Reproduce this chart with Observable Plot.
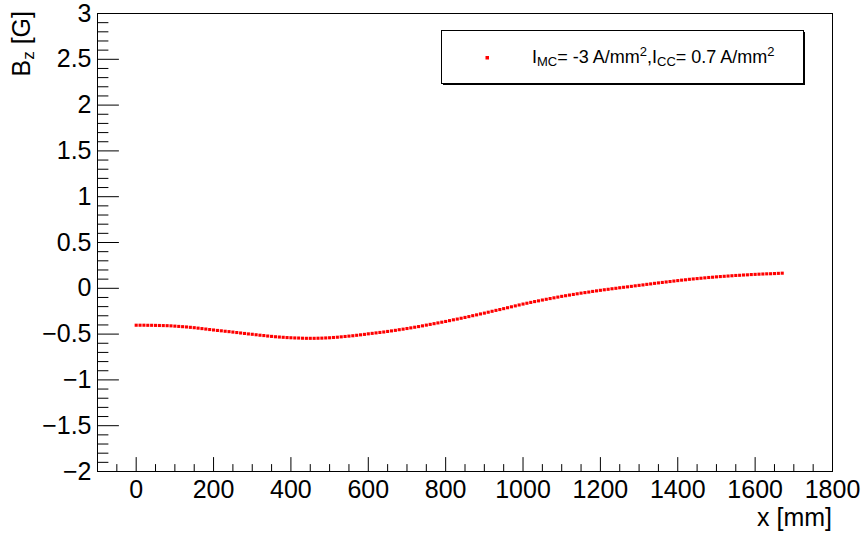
<!DOCTYPE html>
<html><head><meta charset="utf-8">
<script src="https://cdn.jsdelivr.net/npm/d3@7"></script>
<script src="https://cdn.jsdelivr.net/npm/@observablehq/plot@0.6"></script>
<style>html,body{margin:0;padding:0;background:#fff;}</style>
</head><body><div id="chart"></div>
<script>
const xPositions = [
  0,10,20,30,40,50,60,70,80,90,100,
  110,120,130,140,150,160,170,180,190,200,
  210,220,230,240,250,260,270,280,290,300,
  310,320,330,340,350,360,370,380,390,400,
  410,420,430,440,450,460,470,480,490,500,
  510,520,530,540,550,560,570,580,590,600,
  610,620,630,640,650,660,670,680,690,700,
  710,720,730,740,750,760,770,780,790,800,
  810,820,830,840,850,860,870,880,890,900,
  910,920,930,940,950,960,970,980,990,1000,
  1010,1020,1030,1040,1050,1060,1070,1080,1090,1100,
  1110,1120,1130,1140,1150,1160,1170,1180,1190,1200,
  1210,1220,1230,1240,1250,1260,1270,1280,1290,1300,
  1310,1320,1330,1340,1350,1360,1370,1380,1390,1400,
  1410,1420,1430,1440,1450,1460,1470,1480,1490,1500,
  1510,1520,1530,1540,1550,1560,1570,1580,1590,1600,
  1610,1620,1630,1640,1650,1660,1670
];
const bzValues = [
  -0.403,-0.403,-0.403,-0.404,-0.404,-0.405,-0.406,-0.407,-0.408,-0.410,-0.413,
  -0.416,-0.419,-0.422,-0.426,-0.430,-0.435,-0.440,-0.445,-0.450,-0.455,
  -0.460,-0.464,-0.469,-0.473,-0.478,-0.483,-0.488,-0.493,-0.498,-0.502,
  -0.507,-0.512,-0.516,-0.521,-0.525,-0.529,-0.532,-0.535,-0.538,-0.540,
  -0.542,-0.543,-0.545,-0.546,-0.546,-0.546,-0.545,-0.544,-0.542,-0.540,
  -0.537,-0.534,-0.530,-0.526,-0.522,-0.518,-0.513,-0.508,-0.503,-0.497,
  -0.492,-0.487,-0.482,-0.477,-0.471,-0.465,-0.459,-0.452,-0.446,-0.439,
  -0.432,-0.425,-0.418,-0.410,-0.402,-0.394,-0.386,-0.378,-0.370,-0.362,
  -0.353,-0.344,-0.336,-0.327,-0.318,-0.309,-0.299,-0.290,-0.280,-0.271,
  -0.261,-0.251,-0.241,-0.232,-0.222,-0.212,-0.202,-0.192,-0.182,-0.172,
  -0.163,-0.154,-0.145,-0.137,-0.128,-0.120,-0.112,-0.104,-0.096,-0.088,
  -0.081,-0.074,-0.067,-0.060,-0.053,-0.047,-0.041,-0.034,-0.028,-0.022,
  -0.016,-0.011,-0.005,0.000,0.006,0.011,0.016,0.021,0.027,0.032,
  0.037,0.043,0.048,0.054,0.059,0.064,0.069,0.074,0.079,0.084,
  0.089,0.093,0.098,0.102,0.106,0.110,0.114,0.118,0.121,0.125,
  0.128,0.131,0.134,0.137,0.140,0.142,0.145,0.147,0.150,0.152,
  0.154,0.156,0.158,0.159,0.161,0.163,0.165
];
const xTickValues = [0,200,400,600,800,1000,1200,1400,1600,1800];
const xTickLabels = ["0","200","400","600","800","1000","1200","1400","1600","1800"];
const yTickValues = [-2,-1.5,-1,-0.5,0,0.5,1,1.5,2,2.5,3];
const yTickLabels = ["\u22122","\u22121.5","\u22121","\u22120.5","0","0.5","1","1.5","2","2.5","3"];
const xDomain = [-100, 1800];
const yDomain = [-2, 3];
const xMinorStep = 50;
const yMinorStep = 0.1;

const FONT = "'Liberation Sans', Arial, Helvetica, sans-serif";
const data = xPositions.map((x, i) => ({x, bz: bzValues[i]}));
const xMinor = d3.range(xDomain[0], xDomain[1] + 1, xMinorStep).filter(v => !xTickValues.includes(v));
const yMinor = d3.range(yDomain[0] * 10, yDomain[1] * 10 + 1, yMinorStep * 10).filter(v => v % 5 !== 0).map(v => v / 10);

const rightShape = {draw(ctx, l) { ctx.moveTo(0, 0); ctx.lineTo(l, 0); }};
const upShape = {draw(ctx, l) { ctx.moveTo(0, 0); ctx.lineTo(0, -l); }};

const plot = Plot.plot({
  width: 866, height: 536,
  marginLeft: 97, marginRight: 34, marginTop: 13, marginBottom: 65,
  style: {fontFamily: FONT, background: "white", color: "black"},
  x: {domain: xDomain, axis: null},
  y: {domain: yDomain, axis: null},
  marks: [
    Plot.dot(data, {x: "x", y: "bz", symbol: "square", r: 1.75, fill: "#ff0000", stroke: "none"}),
    Plot.frame({stroke: "black", strokeWidth: 1}),
    Plot.vector(yTickValues, {y: d => d, frameAnchor: "left", length: 21, anchor: "start", shape: rightShape, stroke: "black", strokeWidth: 1}),
    Plot.vector(yMinor, {y: d => d, frameAnchor: "left", length: 10.5, anchor: "start", shape: rightShape, stroke: "black", strokeWidth: 1}),
    Plot.vector(xTickValues, {x: d => d, frameAnchor: "bottom", length: 14, anchor: "start", shape: upShape, stroke: "black", strokeWidth: 1}),
    Plot.vector(xMinor, {x: d => d, frameAnchor: "bottom", length: 7, anchor: "start", shape: upShape, stroke: "black", strokeWidth: 1}),
    Plot.text(yTickValues, {y: d => d, text: (d, i) => yTickLabels[i], frameAnchor: "left", textAnchor: "end", lineAnchor: "middle", dx: -6, fontSize: 25, fill: "black"}),
    Plot.text(xTickValues, {x: d => d, text: (d, i) => xTickLabels[i], frameAnchor: "bottom", textAnchor: "middle", lineAnchor: "bottom", dy: 26, fontSize: 25, fill: "black"})
  ]
});
document.getElementById("chart").appendChild(plot);

const svg = d3.select(plot);
// Axis titles
const yt = svg.append("text")
  .attr("transform", "translate(30,11) rotate(-90)")
  .attr("text-anchor", "end").attr("font-family", FONT).attr("font-size", 25).attr("fill", "black");
yt.append("tspan").text("B");
yt.append("tspan").attr("font-size", 17).attr("dy", 4).text("z");
yt.append("tspan").attr("dy", -4).text(" [G]");

svg.append("text").attr("x", 832).attr("y", 526).attr("text-anchor", "end")
  .attr("font-family", FONT).attr("font-size", 25).attr("fill", "black").text("x [mm]");

// Legend
const lg = svg.append("g");
lg.append("rect").attr("x", 443).attr("y", 32).attr("width", 362).attr("height", 53).attr("fill", "black");
lg.append("rect").attr("x", 441.5).attr("y", 30.5).attr("width", 362).attr("height", 53)
  .attr("fill", "white").attr("stroke", "black").attr("stroke-width", 1);
lg.append("rect").attr("x", 485.5).attr("y", 56).attr("width", 3.5).attr("height", 3.5).attr("fill", "#ff0000");
const lt = lg.append("text").attr("x", 532).attr("y", 63).attr("text-anchor", "start")
  .attr("font-family", FONT).attr("font-size", 18).attr("fill", "black");
lt.append("tspan").text("I");
lt.append("tspan").attr("font-size", 13).attr("dy", 3).text("MC");
lt.append("tspan").attr("dy", -3).text("= -3 A/mm");
lt.append("tspan").attr("font-size", 13).attr("dy", -7).text("2");
lt.append("tspan").attr("dy", 7).text(",I");
lt.append("tspan").attr("font-size", 13).attr("dy", 3).text("CC");
lt.append("tspan").attr("dy", -3).text("= 0.7 A/mm");
lt.append("tspan").attr("font-size", 13).attr("dy", -7).text("2");
</script>
</body></html>
